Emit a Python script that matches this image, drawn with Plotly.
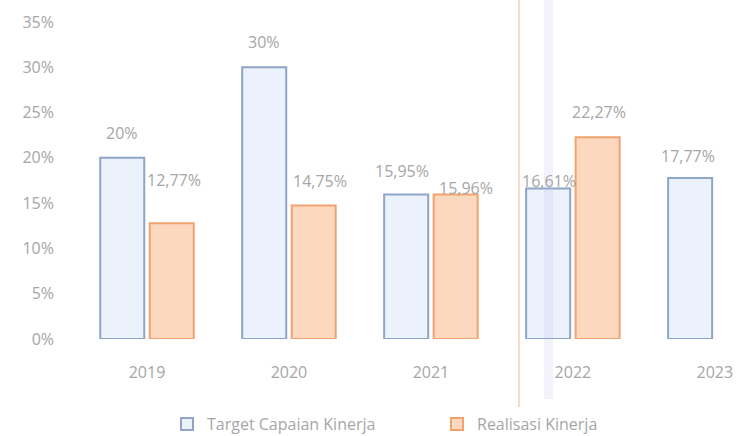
import plotly.graph_objects as go

years = ["2019", "2020", "2021", "2022", "2023"]
target = [20, 30, 15.95, 16.61, 17.77]
realisasi = [12.77, 14.75, 15.96, 22.27, None]
target_labels = ["20%", "30%", "15,95%", "16,61%", "17,77%"]
realisasi_labels = ["12,77%", "14,75%", "15,96%", "22,27%", None]
y_ticks = [0, 5, 10, 15, 20, 25, 30, 35]
y_tick_labels = ["0%", "5%", "10%", "15%", "20%", "25%", "30%", "35%"]

FONT = "Open Sans"
GRAY = "#a6a6a6"

# label offsets (pixels) — styling only
t_yshift = [25, 25, 24, 8, 22]
t_xshift = [0, 0, -4, 1, -2]
r_yshift = [43, 24, 6, 25, 0]
r_xshift = [2, 6, 10, 1, 0]

fig = go.Figure()
fig.add_trace(go.Bar(
    x=years, y=target, name="Target Capaian Kinerja",
    marker=dict(color="#ebf2fb", line=dict(color="#8ea5c8", width=2)),
))
fig.add_trace(go.Bar(
    x=years, y=realisasi, name="Realisasi Kinerja",
    marker=dict(color="#fcd8bf", line=dict(color="#f0a36f", width=2)),
))

slot = 49.5 / 2
for i, yr in enumerate(years):
    fig.add_annotation(x=i, y=target[i], xref="x", yref="y", text=target_labels[i], showarrow=False,
                       xshift=-slot + t_xshift[i], yshift=t_yshift[i],
                       font=dict(family=FONT, size=16, color=GRAY))
    if realisasi[i] is not None:
        fig.add_annotation(x=i, y=realisasi[i], xref="x", yref="y", text=realisasi_labels[i], showarrow=False,
                           xshift=slot + r_xshift[i], yshift=r_yshift[i],
                           font=dict(family=FONT, size=16, color=GRAY))

# scan artifacts
fig.add_shape(type="line", xref="paper", yref="paper", x0=(519 - 76) / 663, x1=(519 - 76) / 663,
              y0=-97 / 317, y1=414 / 317, line=dict(color="rgba(240,170,120,0.55)", width=1.5))
fig.add_shape(type="rect", xref="paper", yref="paper", x0=(544 - 76) / 663, x1=(553 - 76) / 663,
              y0=-60 / 317, y1=414 / 317, line=dict(width=0), fillcolor="rgba(190,180,240,0.18)")

fig.update_layout(
    width=739, height=436,
    margin=dict(l=76, r=0, t=22, b=97, autoexpand=False),
    paper_bgcolor="white", plot_bgcolor="white",
    barmode="group", bargap=0.303, bargroupgap=0.11,
    font=dict(family=FONT, size=16, color=GRAY),
    legend=dict(orientation="h", x=(167 - 76) / 663, xanchor="left", y=-0.215, yanchor="top",
                font=dict(family=FONT, size=16, color=GRAY), itemwidth=30,
                entrywidth=225, entrywidthmode="pixels"),
    showlegend=True,
)
fig.update_xaxes(range=[-0.5, 4.17], showgrid=False, showline=False, zeroline=False, automargin=False,
                 ticks="", ticklabelstandoff=22, tickfont=dict(family=FONT, size=16, color=GRAY))
fig.update_yaxes(range=[0, 35], tickvals=y_ticks, ticktext=y_tick_labels, showgrid=False, automargin=False,
                 zeroline=False, showline=False, ticks="", ticklabelstandoff=21,
                 tickfont=dict(family=FONT, size=16, color=GRAY))

fig.write_html("out.html", config={"displayModeBar": False},
               post_script="document.body.style.margin='0';document.body.style.overflow='hidden';")
